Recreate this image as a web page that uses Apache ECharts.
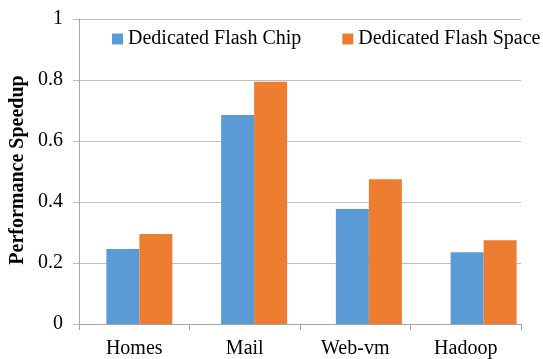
<!DOCTYPE html>
<html>
<head>
<meta charset="utf-8">
<script src="https://cdn.jsdelivr.net/npm/echarts@6/dist/echarts.min.js"></script>
<style>
  html, body { margin: 0; padding: 0; background: #fff; }
  #chart { width: 543px; height: 359px; }
</style>
</head>
<body>
<div id="chart"></div>
<script>
// Workloads on the x axis
var categories = ['Homes', 'Mail', 'Web-vm', 'Hadoop'];
// Speedup for each storage configuration
var flashChip = [0.246, 0.685, 0.377, 0.235];
var flashSpace = [0.295, 0.794, 0.475, 0.275];
var seriesNames = ['Dedicated Flash Chip', 'Dedicated Flash Space'];
var yTicks = [0, 0.2, 0.4, 0.6, 0.8, 1];
var yTitle = 'Performance Speedup';

var font = "'Liberation Serif', 'Times New Roman', serif";
var yMin = yTicks[0], yMax = yTicks[yTicks.length - 1];
var chart = echarts.init(document.getElementById('chart'));
chart.setOption({
  animation: false,
  textStyle: { fontFamily: font },
  // grid 0 carries the visible axes; grid 1 holds the bars, laid out slightly wider
  grid: [
    { left: 79, right: 22, top: 19, bottom: 35 },
    { left: 82, right: 2, top: 19, bottom: 35 }
  ],
  legend: {
    data: seriesNames,
    orient: 'horizontal',
    top: 24,
    left: 107,
    width: 436,
    padding: [5, 0, 5, 5],
    itemWidth: 11,
    itemHeight: 11,
    itemGap: 41,
    icon: 'rect',
    textStyle: { fontFamily: font, fontSize: 20, color: '#000' }
  },
  graphic: [{
    type: 'text',
    x: 18, y: 170,
    rotation: Math.PI / 2,
    style: {
      text: yTitle,
      font: 'bold 20px ' + font,
      fill: '#000',
      align: 'center',
      verticalAlign: 'middle'
    }
  }],
  xAxis: [
    {
      type: 'category', gridIndex: 0,
      data: categories,
      axisLine: { lineStyle: { color: '#A6A6A6', width: 1 } },
      axisTick: { show: true, length: 6, lineStyle: { color: '#A6A6A6' } },
      axisLabel: { fontFamily: font, fontSize: 20, color: '#000', margin: 15 }
    },
    {
      type: 'category', gridIndex: 1,
      data: categories,
      show: false
    }
  ],
  yAxis: [
    {
      type: 'value', gridIndex: 0,
      min: yMin, max: yMax, interval: 0.2,
      axisLine: { show: true, lineStyle: { color: '#A6A6A6' } },
      axisTick: { show: true, length: 6, lineStyle: { color: '#BFBFBF' } },
      splitLine: { lineStyle: { color: '#BFBFBF' } },
      axisLabel: {
        fontFamily: font, fontSize: 20, color: '#000', margin: 16,
        formatter: function (v) { return String(Math.round(v * 10) / 10); }
      }
    },
    {
      type: 'value', gridIndex: 1,
      min: yMin, max: yMax, interval: 0.2,
      show: false, splitLine: { show: false }
    }
  ],
  series: [
    {
      name: seriesNames[0], type: 'bar', data: flashChip,
      xAxisIndex: 1, yAxisIndex: 1,
      itemStyle: { color: '#5B9BD5' },
      barGap: '0%', barCategoryGap: '42.5%'
    },
    {
      name: seriesNames[1], type: 'bar', data: flashSpace,
      xAxisIndex: 1, yAxisIndex: 1,
      itemStyle: { color: '#ED7D31' },
      barGap: '0%', barCategoryGap: '42.5%'
    }
  ]
});
</script>
</body>
</html>
